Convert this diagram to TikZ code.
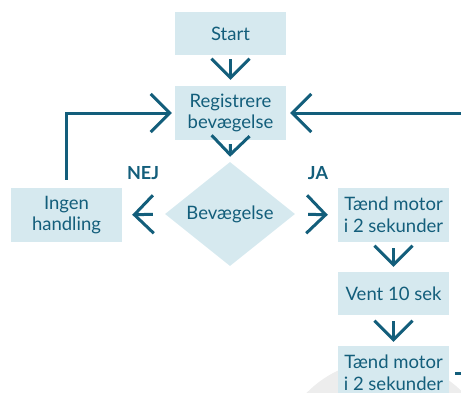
\documentclass[tikz,border=0pt]{standalone}
\usepackage{fontspec}
\setmainfont{Lato}
\usetikzlibrary{shapes.geometric,arrows.meta}
\definecolor{teal}{HTML}{135E7B}
\definecolor{boxfill}{HTML}{D6E9EF}
\definecolor{wm}{HTML}{EDEDED}
\begin{document}
\begin{tikzpicture}[x=1pt,y=-1pt,
  box/.style={fill=boxfill, text=teal, minimum width=111pt, inner sep=0pt, align=center,
    font=\fontsize{18.5}{21.5}\selectfont},
  onebox/.style={box, minimum height=43pt},
  twobox/.style={box, minimum height=54pt},
  dec/.style={diamond, fill=boxfill, text=teal, inner sep=0pt, minimum width=130pt, minimum height=92pt,
    font=\fontsize{18.5}{21.5}\selectfont},
  lab/.style={text=teal, font=\bfseries\fontsize{18}{20}\selectfont},
  arr/.style={draw=teal, line width=3pt, -{Straight Barb[length=19pt,width=38pt,line width=3pt]}},
  ln/.style={draw=teal, line width=3pt}
]
\useasboundingbox (0,0) rectangle (461,392);
\fill[wm] (385,470) circle (110);

\node[onebox] (start) at (230.5,33.5) {Start};
\node[twobox] (reg) at (230.5,113) {Registrere\\bevægelse};
\node[dec] (bev) at (230,214) {Bevægelse};
\node[twobox] (ingen) at (66.5,215) {Ingen\\handling};
\node[twobox] (t1) at (393.5,215) {Tænd motor\\i 2 sekunder};
\node[onebox] (vent) at (393.5,293.5) {Vent 10 sek};
\node[twobox] (t2) at (393.5,373) {Tænd motor\\i 2 sekunder};

\node[lab] (nej) at (143,173) {NEJ};
\node[lab] (ja) at (318,173) {JA};

\draw[arr, shorten <=4pt, shorten >=6pt] (start.south) -- (reg.north);
\draw[arr, shorten <=4pt, shorten >=5pt] (reg.south) -- (bev.north);
\draw[arr, shorten <=12pt, shorten >=10pt] (bev.west) -- (ingen.east);
\draw[arr, shorten <=13pt, shorten >=10pt] (bev.east) -- (t1.west);
\draw[arr, shorten <=6pt, shorten >=5pt] (t1.south) -- (vent.north);
\draw[arr, shorten <=6pt, shorten >=4pt] (vent.south) -- (t2.north);

\coordinate (rin) at (461,113);
\coordinate (dash) at (461,373);
\draw[arr, shorten <=8pt, shorten >=3pt] (ingen.north) |- (reg.west);
\draw[arr, shorten >=4pt] (rin) -- (reg.east);
\draw[ln, shorten <=6pt] (t2.east) -- (dash);
\end{tikzpicture}
\end{document}
